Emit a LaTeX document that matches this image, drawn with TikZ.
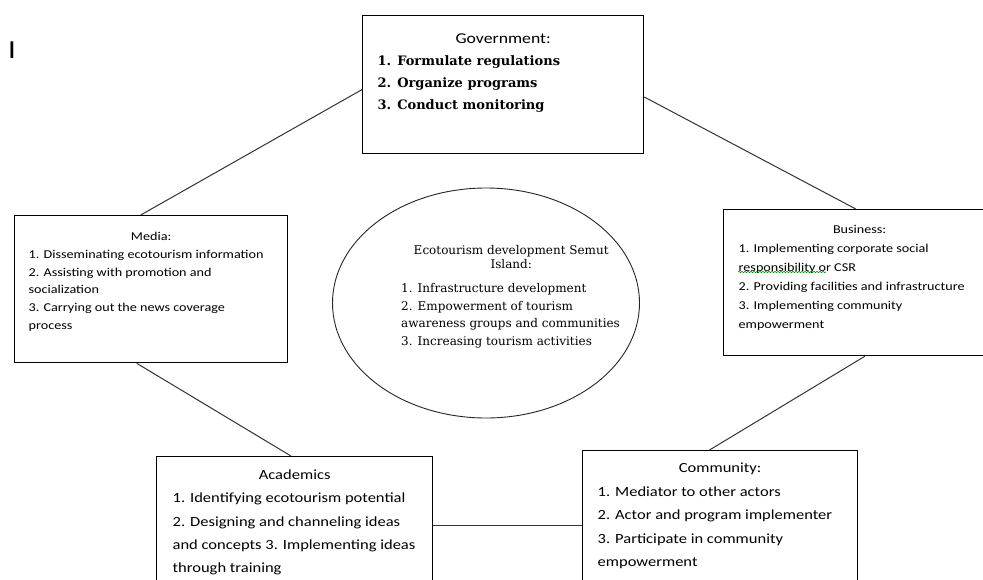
\documentclass[tikz,border=0pt]{standalone}
\usepackage{fontspec}
\setmainfont{DejaVu Serif}
\setsansfont{Carlito}[FakeStretch=1.18]
\usetikzlibrary{shapes.geometric,decorations.pathmorphing}

\tikzstyle{actorbox} = [draw=black, fill=white, line width=1.3pt,
rectangle, inner sep=0pt, anchor=north west]
\tikzstyle{hub} = [draw=black!85, line width=0.9pt, ellipse,
minimum width=307pt, minimum height=230pt, inner sep=0pt]
\tikzstyle{link} = [draw=black!80, line width=1pt]

\begin{document}
\begin{tikzpicture}[x=1pt,y=-1pt]
		\useasboundingbox (0,0) rectangle (983,579);
		\clip (0,0) rectangle (983,579);
		\fill[white] (0,0) rectangle (983,579);

		% stray mark top left
		\node [inner sep=0pt, anchor=base west, font=\sffamily\fontsize{26}{26}\selectfont] (mark) at (8,58) {I};

		% centre
		\node [hub] (eco) at (486,303) {};
		\node [inner sep=0pt, anchor=north west] (ecotext) at (401,240) {%
			\begin{minipage}[t]{220pt}
			\fontsize{12}{14}\selectfont
			{\centering \rule{0pt}{14pt}Ecotourism development Semut\\ Island:\par}
			\vspace{7pt}
			\fontsize{12}{17.5}\selectfont
			1. Infrastructure development\\
			2. Empowerment of tourism\\
			awareness groups and communities\\
			3. Increasing tourism activities
			\end{minipage}};

		% actors
		\node [actorbox] (gov) at (362,15) {%
			\begin{minipage}[t][138pt][t]{281pt}
			\fontsize{15}{22}\selectfont
			{\centering\sffamily \rule{0pt}{28pt}Government:\par}
			\leftskip=15pt
			\fontsize{13}{22}\selectfont\bfseries
			1. Formulate regulations\par
			2. Organize programs\par
			3. Conduct monitoring\par
			\end{minipage}};

		\node [actorbox] (media) at (14,215) {%
			\begin{minipage}[t][147pt][t]{273pt}
			\sffamily\fontsize{12}{17.7}\selectfont
			{\centering \rule{0pt}{25pt}Media:\par}
			\leftskip=14pt
			1. Disseminating ecotourism information\\
			2. Assisting with promotion and\\
			socialization\\
			3. Carrying out the news coverage\\
			process
			\end{minipage}};

		\node [actorbox] (biz) at (723,209) {%
			\begin{minipage}[t][146pt][t]{272pt}
			\sffamily\fontsize{12}{19}\selectfont
			{\centering \rule{0pt}{24pt}Business:\par}
			\leftskip=15pt
			1. Implementing corporate social\\
			responsibility or CSR\\
			2. Providing facilities and infrastructure\\
			3. Implementing community\\
			empowerment
			\end{minipage}};

		\node [actorbox] (aca) at (156,456) {%
			\begin{minipage}[t][138pt][t]{276pt}
			\sffamily\fontsize{14}{23.3}\selectfont
			{\centering \rule{0pt}{23pt}Academics\par}
			\leftskip=16pt
			1. Identifying ecotourism potential\\
			2. Designing and channeling ideas\\
			and concepts 3. Implementing ideas\\
			through training
			\end{minipage}};

		\node [actorbox] (com) at (582,450) {%
			\begin{minipage}[t][150pt][t]{275pt}
			\sffamily\fontsize{14}{23.5}\selectfont
			{\centering \rule{0pt}{22pt}Community:\par}
			\leftskip=15pt
			1. Mediator to other actors\\
			2. Actor and program implementer\\
			3. Participate in community\\
			empowerment
			\end{minipage}};

		% spell check mark
		\draw [green!55!black, line width=0.6pt, decorate,
			decoration={snake, amplitude=0.7pt, segment length=3pt}] (738,272) -- (826,272);

		% connectors
		\draw [link] (gov.182.4) -- (media.98.1);
		\draw [link] (gov.355.5) -- (biz.93.1);
		\draw [link] (media.259.6) -- (aca.93.3);
		\draw [link] (biz.274.7) -- (com.98.7);
		\draw [link] (aca.east) -- (com.west);
\end{tikzpicture}
\end{document}
